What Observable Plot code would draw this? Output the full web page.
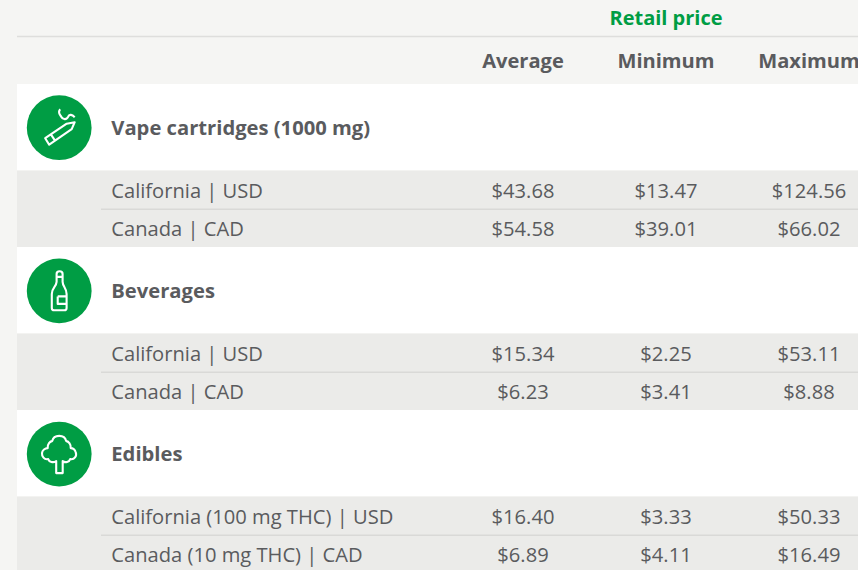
<!DOCTYPE html>
<html>
<head>
<meta charset="utf-8">
<script src="https://cdn.jsdelivr.net/npm/d3@7"></script>
<script src="https://cdn.jsdelivr.net/npm/@observablehq/plot@0.6"></script>
<style>
html,body{margin:0;padding:0;background:#f5f5f3;overflow:hidden;width:858px;height:570px}
svg{display:block;max-width:none!important}
</style>
</head>
<body>
<div id="chart"></div>
<script>
// ---- data ----
const groupTitle = "Retail price";
const columns = ["Average", "Minimum", "Maximum"];
const sections = ["Vape cartridges (1000 mg)", "Beverages", "Edibles"];
const rowLabels = [
  ["California | USD", "Canada | CAD"],
  ["California | USD", "Canada | CAD"],
  ["California (100 mg THC) | USD", "Canada (10 mg THC) | CAD"]
];
const averages = [[43.68, 54.58], [15.34, 6.23], [16.40, 6.89]];
const minimums = [[13.47, 39.01], [2.25, 3.41], [3.33, 4.11]];
const maximums = [[124.56, 66.02], [53.11, 8.88], [50.33, 16.49]];

// ---- layout ----
const W = 858, H = 570;
const left = 17, labelX = 110.8, dividerX = 101, iconX = 58.7;
const colX = {Average: 522.5, Minimum: 665.5, Maximum: 808.5};
const headerRuleY = 36, headerBottom = 84, sectionH = 86.5, rowH = 38.25;
const sectionTop = i => headerBottom + i * (sectionH + 2 * rowH);
const greyTop = i => sectionTop(i) + sectionH;
const rowMid = (i, j) => greyTop(i) + rowH * (j + .5) + 1.1 + (j ? .2 : 0);

const valueRows = sections.flatMap((_, i) => [0, 1].flatMap(j =>
  columns.map((c, k) => ({
    x: colX[c], y: rowMid(i, j),
    text: d3.format("$.2f")([averages, minimums, maximums][k][i][j])
  }))));
const labelRows = sections.flatMap((_, i) => [0, 1].map(j => ({x: labelX, y: rowMid(i, j), text: rowLabels[i][j]})));
const bands = sections.map((s, i) => ({s, i, x1: left, x2: W,
  whiteTop: sectionTop(i), greyTop: greyTop(i), greyEnd: greyTop(i) + 2 * rowH, divider: greyTop(i) + rowH}));

// ---- icon glyphs as custom dot symbols ----
const vape = {draw(c) {
  c.moveTo(-14, 10.5); c.lineTo(7.5, -4); c.lineTo(15.5, -5.5); c.lineTo(12.5, 1.5); c.lineTo(-10, 17); c.closePath();
  c.moveTo(-8.5, 6.5); c.lineTo(-4.5, 12.5);
  c.moveTo(1, -18.5);
  c.bezierCurveTo(-2, -15, 1, -13, 2, -11);
  c.bezierCurveTo(3.5, -8, 7.5, -7.5, 9, -11);
  c.bezierCurveTo(10, -14, 13, -13, 15.5, -10.5);
}};
const bottle = {draw(c) {
  c.moveTo(-2.6, -17); c.bezierCurveTo(-2.6, -20.5, 3.4, -20.5, 3.4, -17);
  c.lineTo(3.4, -9); c.bezierCurveTo(3.6, -4, 7.4, -3, 7.4, 3);
  c.lineTo(7.4, 17); c.quadraticCurveTo(7.4, 19.3, 5, 19.3);
  c.lineTo(-5, 19.3); c.quadraticCurveTo(-7.4, 19.3, -7.4, 17);
  c.lineTo(-7.4, 3); c.bezierCurveTo(-7.4, -3, -2.9, -4, -2.6, -9); c.closePath();
  c.moveTo(-2.6, -14); c.lineTo(3.4, -14);
  c.moveTo(-1.5, 5.5); c.lineTo(7.4, 5.5);
  c.moveTo(7.4, 13); c.lineTo(-1.5, 13); c.lineTo(-1.5, 5.5);
}};
const tree = {draw(c) {
  c.moveTo(-3, 19); c.lineTo(3.5, 19); c.lineTo(3.5, 7);
  c.bezierCurveTo(6, 9, 10, 8, 11, 5);
  c.bezierCurveTo(15, 6, 18, 2, 16.5, -2);
  c.bezierCurveTo(15.5, -5, 13, -6, 11.5, -6);
  c.bezierCurveTo(12, -10, 9, -13, 7, -13);
  c.bezierCurveTo(5.5, -20, -5.5, -20, -7, -13);
  c.bezierCurveTo(-9, -13, -12, -10, -11.5, -6);
  c.bezierCurveTo(-14, -6, -17, -4, -17.2, -1);
  c.bezierCurveTo(-17.5, 2, -15, 6, -11, 5);
  c.bezierCurveTo(-10, 8, -6, 9, -3, 7);
  c.closePath();
}};
const icons = [vape, bottle, tree];
const iconMids = [127.2, 290.4, 453.6];

const font = "'Open Sans'";
const ink = "#5a5b5e", green = "#009d44";

const plot = Plot.plot({
  width: W, height: H,
  margin: 0,
  x: {type: "linear", domain: [0, W], range: [0, W], axis: null},
  y: {type: "linear", domain: [0, H], range: [0, H], axis: null},
  style: {background: "#f5f5f3", fontFamily: font},
  marks: [
    Plot.rect(bands, {x1: "x1", x2: "x2", y1: "whiteTop", y2: "greyTop", fill: "#ffffff"}),
    Plot.rect(bands, {x1: "x1", x2: "x2", y1: "greyTop", y2: "greyEnd", fill: "#ebebe9"}),
    Plot.ruleY(bands, {y: "divider", x1: dividerX, x2: W, stroke: "#d9d9d7", strokeWidth: 1.5}),
    Plot.ruleY([headerRuleY], {x1: left, x2: W, stroke: "#dededc", strokeWidth: 1.5}),
    Plot.text([groupTitle], {x: colX.Minimum, y: 18.5, text: d => d, fill: green, fontWeight: 700, fontSize: 20, fontFamily: font}),
    Plot.text(columns, {x: c => colX[c], y: 61, text: d => d, fill: ink, fontWeight: 700, fontSize: 20.1, fontFamily: font}),
    Plot.text(bands, {x: labelX, y: d => d.whiteTop + 44, text: "s", textAnchor: "start", fill: ink, fontWeight: 700, fontSize: 20.2, fontFamily: font}),
    Plot.text(labelRows, {x: "x", y: "y", text: "text", textAnchor: "start", fill: ink, fontSize: 20.15, fontFamily: font}),
    Plot.text(valueRows, {x: "x", y: "y", text: "text", fill: ink, fontSize: 20.15, fontFamily: font}),
    Plot.dot(bands, {x: iconX, y: d => iconMids[d.i], r: 32.4, fill: green}),
    ...icons.map((symbol, i) => Plot.dot([i], {x: iconX, y: iconMids[i], r: 10, symbol, fill: "none", stroke: "#ffffff", strokeWidth: 2.1, strokeLinejoin: "round"}))
  ]
});
document.getElementById("chart").appendChild(plot);
</script>
</body>
</html>
